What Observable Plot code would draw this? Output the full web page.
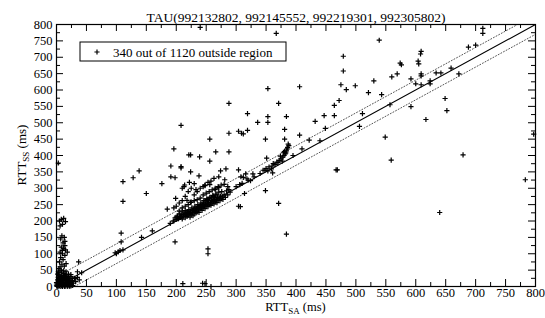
<!DOCTYPE html>
<html><head><meta charset="utf-8">
<script src="https://cdn.jsdelivr.net/npm/d3@7"></script>
<script src="https://cdn.jsdelivr.net/npm/@observablehq/plot@0.6"></script>
<style>body{margin:0;background:#fff}</style>
</head><body><div id="chart"></div>
<script>
const titleText = "TAU(992132802, 992145552, 992219301, 992305802)";
const legendText = "340 out of 1120 outside region";
const majorTicks = [0,50,100,150,200,250,300,350,400,450,500,550,600,650,700,750,800];
const minorTicks = [25,75,125,175,225,275,325,375,425,475,525,575,625,675,725,775];
const band = 30;

// [RTT_SA, RTT_SS] pairs
const nearOrigin = [[1,2],[2,5],[3,1],[4,8],[5,3],[6,12],[7,6],[8,2],[9,15],[10,9],[11,4],[12,18],[13,7],[14,1],[15,11],[16,22],[17,5],[18,14],[19,3],[20,9],[21,17],[22,6],[23,12],[24,2],[2,20],[3,28],[4,16],[5,24],[6,31],[7,19],[8,26],[9,35],[10,21],[11,28],[12,33],[13,25],[14,30],[15,19],[16,36],[17,27],[18,24],[19,31],[20,20],[22,26],[24,30],[25,14],[1,10],[3,14],[5,7],[7,10],[9,4],[11,13],[13,2],[15,5],[17,10],[19,7],[21,2],[23,8],[25,5],[26,18],[28,10],[27,3],[6,0],[10,0],[14,0],[18,0],[22,1],[1,0],[0,4],[0,12],[2,38],[4,42],[8,44],[12,40],[16,45],[20,38],[30,25],[32,15],[35,28],[38,20],[27,15],[24,36],[37,75],[35,45],[42,42]];
const column = [[3,377],[8,205],[12,208],[5,200],[15,198],[10,190],[6,185],[9,155],[13,150],[7,145],[14,138],[11,133],[8,120],[12,116],[15,112],[6,105],[10,100],[14,95],[7,88],[11,82],[5,75],[9,68],[13,62],[4,55],[8,50],[3,45],[12,48],[6,60],[16,70],[10,110],[18,105],[14,125],[4,35]];
const lowDiag = [[98,103],[103,106],[100,100],[106,110],[108,136],[108,163],[111,112],[142,150],[160,170],[190,193],[196,200],[185,236],[198,136],[211,9],[248,9],[244,10],[258,0],[199,269],[111,260],[111,320],[128,332],[138,353],[150,284],[176,314],[191,335],[198,332],[196,420],[191,368],[208,362],[221,402],[208,492]];
const cluster = [[195,200],[198,210],[200,205],[202,215],[204,208],[205,222],[207,212],[208,220],[210,206],[210,230],[212,215],[213,225],[215,210],[215,232],[217,220],[218,214],[219,228],[220,218],[221,235],[222,224],[223,212],[224,230],[225,219],[226,240],[227,226],[228,216],[229,233],[230,222],[231,245],[232,230],[233,225],[234,238],[235,228],[236,250],[237,234],[238,226],[239,242],[240,236],[241,255],[242,240],[243,232],[244,248],[245,240],[246,262],[247,245],[248,238],[249,252],[250,246],[251,268],[252,250],[253,244],[254,258],[255,250],[256,272],[257,255],[258,248],[259,262],[260,255],[261,278],[262,260],[263,252],[264,266],[265,258],[266,282],[267,264],[268,256],[269,272],[270,264],[271,288],[272,270],[273,262],[274,276],[275,268],[276,290],[277,274],[278,266],[280,280],[282,272],[284,292],[286,280],[288,296],[290,288],[245,255],[248,262],[252,265],[255,268],[258,270],[262,275],[265,272],[268,280],[250,258],[246,250],[243,251],[240,248],[238,244],[236,242],[233,240],[230,236],[227,232],[224,226],[221,228],[218,224],[215,222],[212,218],[209,214],[206,212],[203,206],[200,212],[205,230],[210,240],[215,245],[220,250],[225,258],[230,262],[235,265],[240,270],[245,280],[250,285],[255,290],[260,295],[265,300],[270,305],[275,310],[280,312],[230,280],[235,290],[240,300],[245,305],[225,300],[220,290],[215,275],[210,262],[205,255],[248,310],[253,318],[258,322],[263,330],[210,300],[214,310],[222,318],[200,245],[196,240]];
const midScatter = [[224,402],[239,396],[266,411],[288,411],[256,383],[208,366],[224,350],[238,338],[274,353],[283,359],[304,356],[271,335],[281,326],[308,335],[312,333],[316,344],[328,344],[318,329],[306,311],[230,314],[248,308],[256,311],[265,296],[271,302],[286,305],[213,305],[233,296],[218,263],[224,257],[314,284],[349,293],[304,245],[371,254],[307,244],[469,356],[384,160],[253,115],[253,100],[240,791],[367,773],[288,559],[353,604],[371,559],[319,528],[353,519],[336,501],[353,501],[384,519],[288,468],[304,474],[309,468],[312,466],[319,477],[381,480],[256,450],[349,450],[381,450]];
const upperDiag = [[300,305],[310,315],[320,325],[324,323],[330,335],[340,345],[345,355],[351,392],[353,353],[359,359],[361,347],[377,383],[383,408],[384,414],[365,372],[370,378],[372,385],[375,390],[378,395],[380,400],[382,405],[385,420],[386,425],[388,430],[387,435],[355,365],[360,368],[350,360],[348,355],[362,375],[368,380],[374,398],[379,410],[381,412],[395,400],[406,462],[406,610],[410,420],[440,445]];
const farScatter = [[479,703],[700,737],[609,718],[604,688],[574,682],[479,658],[560,640],[569,649],[609,649],[609,643],[592,634],[600,619],[609,616],[624,628],[624,619],[634,652],[642,652],[659,667],[672,649],[475,616],[484,601],[499,613],[530,628],[521,592],[543,586],[472,568],[464,553],[464,522],[447,522],[432,504],[449,483],[511,528],[506,489],[557,555],[592,549],[649,574],[652,537],[617,510],[422,447],[549,456],[467,356],[559,386],[679,402],[797,465],[783,326],[640,226],[539,752],[712,788],[712,773],[608,710],[688,731],[576,677],[605,680]];

const points = [...nearOrigin, ...column, ...lowDiag, ...cluster, ...midScatter, ...upperDiag, ...farScatter]
  .map(([sa, ss]) => ({sa, ss}));
const diagonal = [{sa: 0, ss: 0}, {sa: 800, ss: 800}];
const upperLine = [{sa: 0, ss: band}, {sa: 800 - band, ss: 800}];
const lowerLine = [{sa: band, ss: 0}, {sa: 800, ss: 800 - band}];

const W = 545, H = 318, mL = 56, mR = 10, mT = 24, mB = 32;
const fw = W - mL - mR, fh = H - mT - mB;
const font = "Liberation Serif, Times New Roman, serif";

const plot = Plot.plot({
  width: W, height: H,
  marginLeft: mL, marginRight: mR, marginTop: mT, marginBottom: mB,
  style: {fontFamily: font, fontSize: "12.5px", background: "white", color: "black", overflow: "visible"},
  x: {domain: [0, 800], label: null},
  y: {domain: [0, 800], label: null},
  marks: [
    Plot.line(diagonal, {x: "sa", y: "ss", stroke: "black", strokeWidth: 1.1}),
    Plot.line(upperLine, {x: "sa", y: "ss", stroke: "#555", strokeWidth: 1, strokeDasharray: "1,2"}),
    Plot.line(lowerLine, {x: "sa", y: "ss", stroke: "#555", strokeWidth: 1, strokeDasharray: "1,2"}),
    Plot.dot(points, {x: "sa", y: "ss", symbol: "plus", r: 1.8, stroke: "black", strokeWidth: 1.2}),
    Plot.tickX(majorTicks, {x: d => d, insetTop: fh - 7, stroke: "black"}),
    Plot.tickX(minorTicks, {x: d => d, insetTop: fh - 4, stroke: "black"}),
    Plot.tickX(majorTicks, {x: d => d, insetBottom: fh - 7, stroke: "black"}),
    Plot.tickX(minorTicks, {x: d => d, insetBottom: fh - 4, stroke: "black"}),
    Plot.tickY(majorTicks, {y: d => d, insetRight: fw - 7, stroke: "black"}),
    Plot.tickY(minorTicks, {y: d => d, insetRight: fw - 4, stroke: "black"}),
    Plot.tickY(majorTicks, {y: d => d, insetLeft: fw - 7, stroke: "black"}),
    Plot.tickY(minorTicks, {y: d => d, insetLeft: fw - 4, stroke: "black"}),
    Plot.axisX({ticks: majorTicks, tickSize: 0, tickPadding: 2, tickFormat: d => String(d)}),
    Plot.axisY({ticks: majorTicks, tickSize: 0, tickPadding: 4, tickFormat: d => String(d)}),
    Plot.frame({stroke: "black", strokeWidth: 1.2}),
    Plot.text([titleText], {frameAnchor: "top", dy: -12, text: d => d, fontSize: 13.5, fill: "black"})
  ]
});
document.getElementById("chart").appendChild(plot);

const svg = d3.select(plot);
// x axis label with subscript
const xl = svg.append("text")
  .attr("x", mL + fw / 2).attr("y", 311)
  .attr("text-anchor", "middle").attr("font-family", font).attr("font-size", 12.5).attr("fill", "black");
xl.append("tspan").text("RTT");
xl.append("tspan").attr("font-size", 9).attr("dy", 3).text("SA");
xl.append("tspan").attr("dy", -3).text(" (ms)");
// y axis label with subscript
const yl = svg.append("text")
  .attr("transform", `translate(26,${mT + fh / 2}) rotate(-90)`)
  .attr("text-anchor", "middle").attr("font-family", font).attr("font-size", 13).attr("fill", "black");
yl.append("tspan").text("RTT");
yl.append("tspan").attr("font-size", 9).attr("dy", 3).text("SS");
yl.append("tspan").attr("dy", -3).text(" (ms)");
// legend box
const lg = svg.append("g");
lg.append("rect").attr("x", 80).attr("y", 42).attr("width", 206).attr("height", 19)
  .attr("fill", "white").attr("stroke", "black").attr("stroke-width", 1);
lg.append("path").attr("transform", "translate(97,52)")
  .attr("d", d3.symbol(d3.symbolPlus, 10)()).attr("fill", "none").attr("stroke", "black").attr("stroke-width", 1.2);
lg.append("text").attr("x", 113).attr("y", 52).attr("dy", "0.35em").attr("text-anchor", "start")
  .attr("font-family", font).attr("font-size", 13).attr("fill", "black").text(legendText);
</script>
</body></html>
